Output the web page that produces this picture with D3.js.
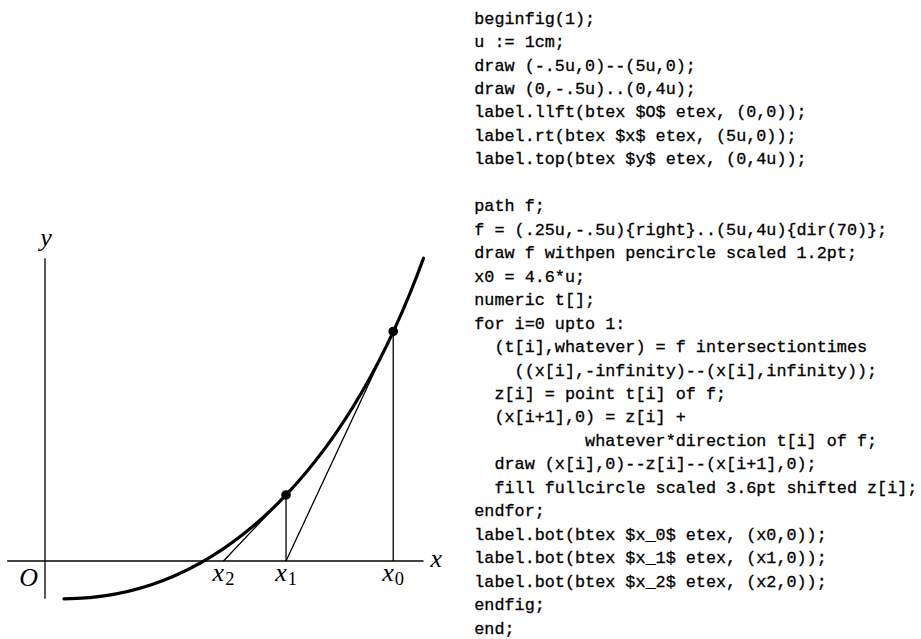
<!DOCTYPE html>
<html>
<head>
<meta charset="utf-8">
<script src="https://cdn.jsdelivr.net/npm/d3@7"></script>
<style>
  html, body { margin: 0; padding: 0; background: #fff; }
  svg { display: block; }
  .code { font-family: "Liberation Mono", "DejaVu Sans Mono", monospace; font-size: 16.8px; white-space: pre; fill: #000; stroke: #000; stroke-width: 0.3px; }
  .math { font-family: "Liberation Serif", "DejaVu Serif", serif; font-style: italic; font-size: 26px; fill: #000; }
  .sub { font-style: normal; font-size: 18.5px; }
</style>
</head>
<body>
<svg id="chart" width="921" height="639"></svg>
<script>
// ---- data (units of u, as in the MetaPost source) ----
const xAxisRange = [-0.5, 5];
const yAxisRange = [-0.5, 4];
const curveStart = [0.25, -0.5];   // {right}
const curveEnd = [5, 4];           // {dir(70)}
const startDirDeg = 0;
const endDirDeg = 70;
const x0Value = 4.6;
const iterations = [0, 1];
const subscripts = ["0", "1", "2"];

const codeLines = [
  "beginfig(1);",
  "u := 1cm;",
  "draw (-.5u,0)--(5u,0);",
  "draw (0,-.5u)..(0,4u);",
  "label.llft(btex $O$ etex, (0,0));",
  "label.rt(btex $x$ etex, (5u,0));",
  "label.top(btex $y$ etex, (0,4u));",
  "",
  "path f;",
  "f = (.25u,-.5u){right}..(5u,4u){dir(70)};",
  "draw f withpen pencircle scaled 1.2pt;",
  "x0 = 4.6*u;",
  "numeric t[];",
  "for i=0 upto 1:",
  "  (t[i],whatever) = f intersectiontimes",
  "    ((x[i],-infinity)--(x[i],infinity));",
  "  z[i] = point t[i] of f;",
  "  (x[i+1],0) = z[i] +",
  "           whatever*direction t[i] of f;",
  "  draw (x[i],0)--z[i]--(x[i+1],0);",
  "  fill fullcircle scaled 3.6pt shifted z[i];",
  "endfor;",
  "label.bot(btex $x_0$ etex, (x0,0));",
  "label.bot(btex $x_1$ etex, (x1,0));",
  "label.bot(btex $x_2$ etex, (x2,0));",
  "endfig;",
  "end;"
];

// ---- layout ----
const U = 75.7;
const originX = 45, originY = 561;
const xs = d3.scaleLinear().domain([0, 1]).range([originX, originX + U]);
const ys = d3.scaleLinear().domain([0, 1]).range([originY, originY - U]);

const svg = d3.select("#chart");

// ---- Hobby control points for a two-point path with given directions ----
function hobbyControls(p0, p1, a0deg, a1deg) {
  const dx = p1[0] - p0[0], dy = p1[1] - p0[1];
  const d = Math.hypot(dx, dy);
  const chord = Math.atan2(dy, dx);
  const a0 = a0deg * Math.PI / 180, a1 = a1deg * Math.PI / 180;
  const th = a0 - chord, ph = chord - a1;
  const vel = (t, p) => {
    const st = Math.sin(t), ct = Math.cos(t), sp = Math.sin(p), cp = Math.cos(p);
    const num = 2 + Math.SQRT2 * (st - sp / 16) * (sp - st / 16) * (ct - cp);
    const den = 3 * (1 + 0.5 * (Math.sqrt(5) - 1) * ct + 0.5 * (3 - Math.sqrt(5)) * cp);
    return num / den;
  };
  const f = vel(th, ph), g = vel(ph, th);
  return [
    [p0[0] + d * f * Math.cos(a0), p0[1] + d * f * Math.sin(a0)],
    [p1[0] - d * g * Math.cos(a1), p1[1] - d * g * Math.sin(a1)]
  ];
}
const [c1, c2] = hobbyControls(curveStart, curveEnd, startDirDeg, endDirDeg);
const P = [curveStart, c1, c2, curveEnd];

function bez(t) {
  const m = 1 - t;
  return [0, 1].map(k => m*m*m*P[0][k] + 3*m*m*t*P[1][k] + 3*m*t*t*P[2][k] + t*t*t*P[3][k]);
}
function bezD(t) {
  const m = 1 - t;
  return [0, 1].map(k => 3*(m*m*(P[1][k]-P[0][k]) + 2*m*t*(P[2][k]-P[1][k]) + t*t*(P[3][k]-P[2][k])));
}
function tAtX(x) {
  let lo = 0, hi = 1;
  for (let i = 0; i < 60; i++) {
    const mid = (lo + hi) / 2;
    if (bez(mid)[0] < x) lo = mid; else hi = mid;
  }
  return (lo + hi) / 2;
}

// Newton iteration as in the source
const xv = [x0Value];
const zv = [];
iterations.forEach(i => {
  const t = tAtX(xv[i]);
  const z = bez(t);
  const dz = bezD(t);
  zv.push(z);
  xv.push(z[0] - z[1] * dz[0] / dz[1]);
});

// ---- axes ----
svg.append("line")
  .attr("x1", xs(xAxisRange[0])).attr("x2", xs(xAxisRange[1]))
  .attr("y1", ys(0)).attr("y2", ys(0))
  .attr("stroke", "#000").attr("stroke-width", 1.3);
svg.append("line")
  .attr("x1", xs(0)).attr("x2", xs(0))
  .attr("y1", ys(yAxisRange[0])).attr("y2", ys(yAxisRange[1]))
  .attr("stroke", "#000").attr("stroke-width", 1.3);

// ---- curve ----
const path = d3.path();
path.moveTo(xs(P[0][0]), ys(P[0][1]));
path.bezierCurveTo(xs(P[1][0]), ys(P[1][1]), xs(P[2][0]), ys(P[2][1]), xs(P[3][0]), ys(P[3][1]));
svg.append("path")
  .attr("d", path.toString())
  .attr("fill", "none").attr("stroke", "#000")
  .attr("stroke-width", 3.2).attr("stroke-linecap", "round");

// ---- tangent construction lines & dots ----
const line = d3.line().x(d => xs(d[0])).y(d => ys(d[1]));
iterations.forEach(i => {
  svg.append("path")
    .attr("d", line([[xv[i], 0], zv[i], [xv[i + 1], 0]]))
    .attr("fill", "none").attr("stroke", "#000").attr("stroke-width", 1.3)
    .attr("stroke-linejoin", "miter");
});
iterations.forEach(i => {
  svg.append("circle")
    .attr("cx", xs(zv[i][0])).attr("cy", ys(zv[i][1]))
    .attr("r", 4.8).attr("fill", "#000");
});

// ---- labels ----
svg.append("text").attr("class", "math")
  .attr("x", xs(0) - 7).attr("y", ys(0) + 25)
  .attr("text-anchor", "end").text("O");
svg.append("text").attr("class", "math")
  .attr("x", xs(xAxisRange[1]) + 7).attr("y", ys(0) + 6)
  .attr("text-anchor", "start").text("x");
svg.append("text").attr("class", "math")
  .attr("x", xs(0) + 1).attr("y", ys(yAxisRange[1]) - 12)
  .attr("text-anchor", "middle").text("y");

subscripts.forEach((s, i) => {
  const t = svg.append("text").attr("class", "math")
    .attr("x", xs(xv[i])).attr("y", ys(0) + 20)
    .attr("text-anchor", "middle");
  t.append("tspan").text("x");
  t.append("tspan").attr("class", "sub").attr("dx", 1).attr("dy", 4).text(s);
});

// ---- code listing ----
const codeG = svg.append("g");
codeG.selectAll("text")
  .data(codeLines)
  .join("text")
  .attr("class", "code")
  .attr("x", 474.3)
  .attr("y", (d, i) => 23.6 + i * 23.46)
  .text(d => d);
</script>
</body>
</html>
